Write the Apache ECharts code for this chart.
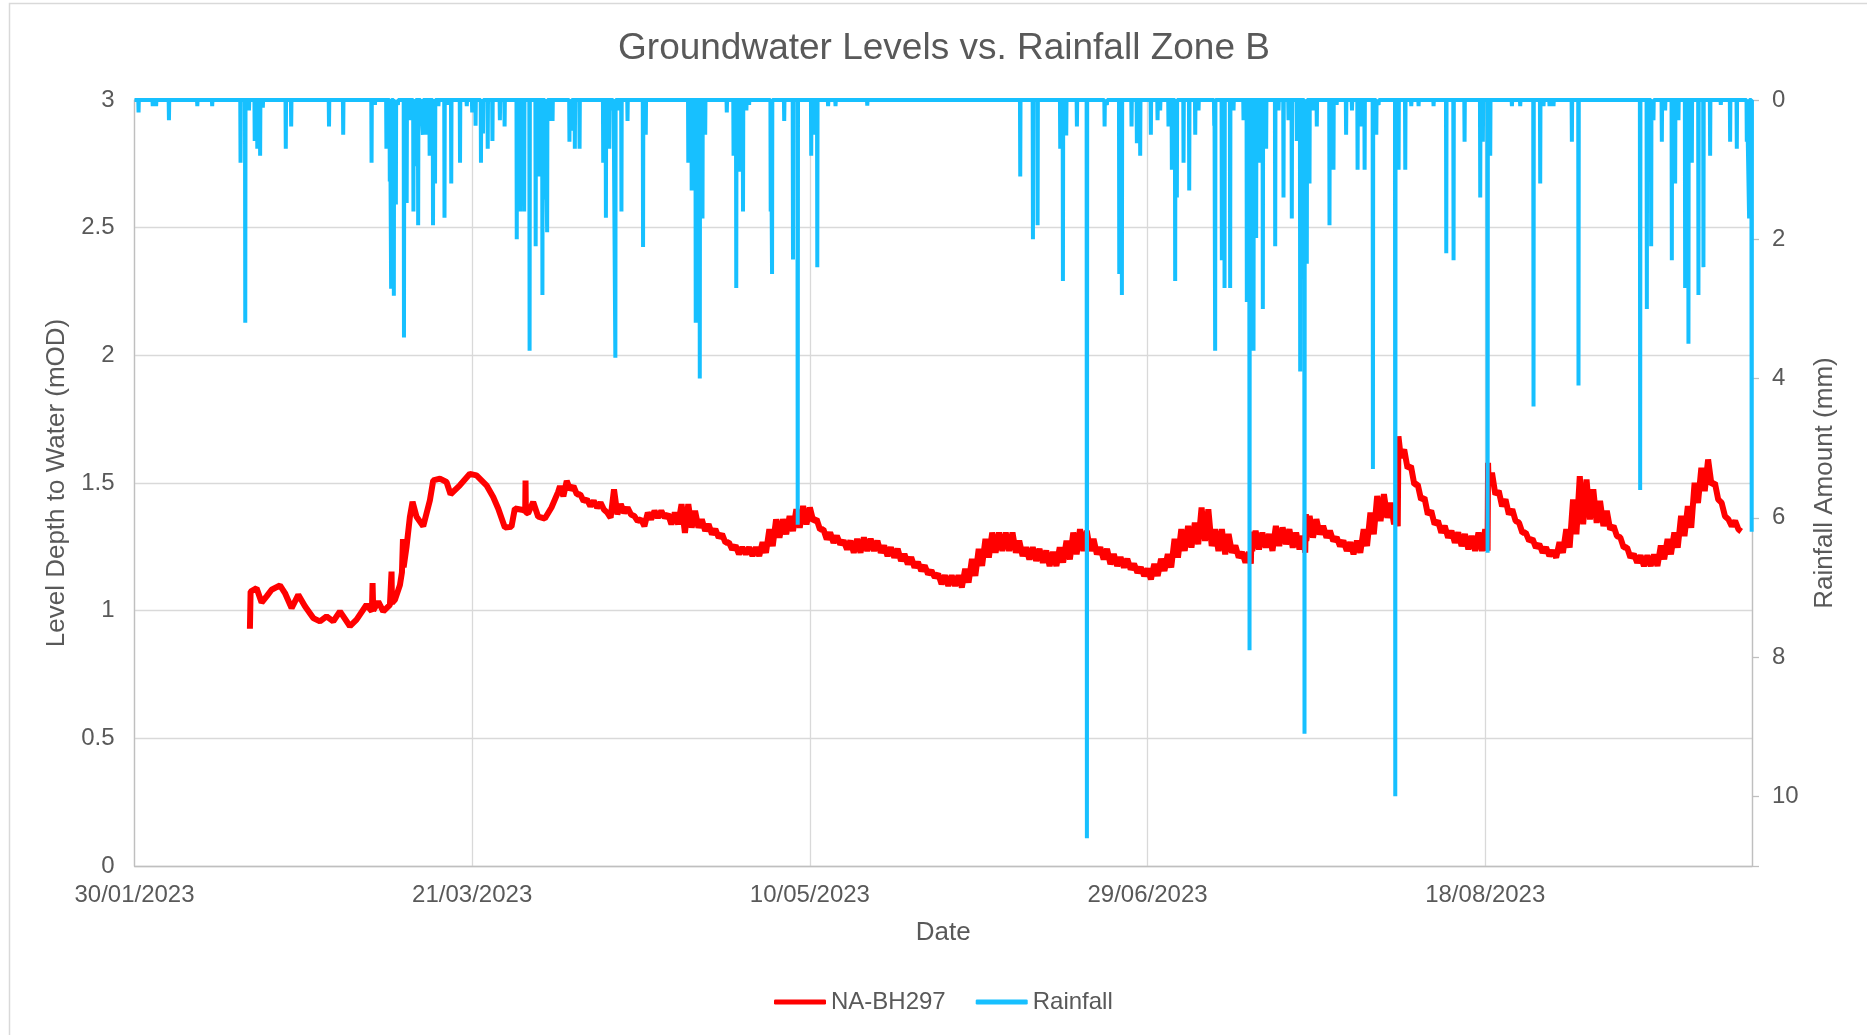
<!DOCTYPE html>
<html>
<head>
<meta charset="utf-8">
<script src="https://cdn.jsdelivr.net/npm/echarts@6/dist/echarts.min.js"></script>
<style>
html,body{margin:0;padding:0;background:#fff;}
#chart{width:1867px;height:1035px;}
</style>
</head>
<body>
<div id="chart"></div>
<script>
// ---------- DATA (day offsets from 30/01/2023) ----------
const chartTitle = 'Groundwater Levels vs. Rainfall Zone B';
const seriesNames = ['NA-BH297', 'Rainfall'];
const xAxisTitle = 'Date';
const leftAxisTitle = 'Level Depth to Water (mOD)';
const rightAxisTitle = 'Rainfall Amount (mm)';
const startDate = [2023, 0, 30];
const xTickIntervalDays = 50;
const xMaxDay = 239.5;
const levelTicks = [0, 3, 0.5];      // min, max, step
const rainTicks = [0, 11, 2];        // min, max, step

// Groundwater level, early record (single trace)
const levelEarlyDays = [17.09,17.19,18.08,18.82,19.56,20.3,21.54,22.28,23.26,24.25,25.24,26.47,27.455,28.44,29.43,30.42,31.9,32.88,34.36,35.15,35.25,35.35,36.09,36.83,37.82,38.0,38.06,38.12,38.56,39.3,39.6,39.75,39.85,40.28,40.78,41.17,41.76,42.75,43.74,44.23,45.22,46.2,46.8,48.17,49.66,50.64,52.12,53.11,53.85,54.84,55.82,56.32,57.55,57.85,57.9,57.95,58.29,59.03,59.77,60.76,61.74,62.73];
const levelEarly = [0.929,1.075,1.088,1.032,1.056,1.082,1.099,1.069,1.010,1.062,1.017,0.971,0.958,0.978,0.958,0.997,0.939,0.965,1.023,0.997,1.108,1.0,1.036,0.997,1.023,1.03,1.153,1.03,1.043,1.10,1.15,1.28,1.17,1.25,1.368,1.426,1.368,1.331,1.432,1.510,1.517,1.504,1.456,1.491,1.536,1.530,1.491,1.445,1.400,1.326,1.329,1.400,1.394,1.39,1.510,1.385,1.381,1.426,1.368,1.361,1.404,1.465];

// From day 63: daily upper / lower edge of the diurnal band
const levelBandStartDay = 63;
const levelBandHigh = [
1.488,1.508,1.488,1.456,1.436,1.430,1.423,1.384,1.475,1.417,
1.404,1.371,1.358,1.384,1.391,1.391,1.378,1.384,1.417,1.417,
1.391,1.358,1.339,1.319,1.300,1.268,1.255,1.248,1.248,1.248,
1.268,1.319,1.358,1.358,1.371,1.397,1.410,1.404,1.358,1.319,
1.306,1.293,1.274,1.274,1.281,1.287,1.281,1.274,1.255,1.248,
1.242,1.222,1.209,1.190,1.177,1.157,1.144,1.138,1.138,1.138,
1.164,1.203,1.242,1.281,1.306,1.306,1.306,1.306,1.274,1.248,
1.248,1.242,1.235,1.230,1.248,1.274,1.306,1.319,1.313,1.281,
1.248,1.242,1.222,1.209,1.203,1.183,1.170,1.164,1.183,1.203,
1.222,1.281,1.319,1.332,1.345,1.404,1.397,1.319,1.319,1.300,
1.255,1.229,1.229,1.313,1.306,1.300,1.332,1.326,1.319,1.306,
1.293,1.371,1.358,1.332,1.313,1.287,1.274,1.268,1.274,1.319,
1.384,1.449,1.456,1.423,1.400,1.631,1.566,1.495,1.443,1.391,
1.352,1.332,1.313,1.306,1.300,1.293,1.306,1.319,1.540,1.469,
1.436,1.397,1.345,1.306,1.281,1.261,1.248,1.235,1.268,1.319,
1.436,1.527,1.514,1.475,1.430,1.391,1.332,1.287,1.248,1.222,
1.216,1.216,1.220,1.255,1.281,1.306,1.371,1.410,1.501,1.560,
1.592,1.501,1.423,1.358,1.352];
const levelBandLow = [
1.448,1.474,1.455,1.429,1.409,1.403,1.396,1.364,1.377,1.383,
1.377,1.351,1.331,1.357,1.364,1.364,1.338,1.338,1.305,1.325,
1.325,1.312,1.299,1.286,1.266,1.240,1.221,1.221,1.214,1.214,
1.227,1.253,1.286,1.299,1.312,1.325,1.338,1.351,1.318,1.279,
1.266,1.260,1.240,1.227,1.227,1.234,1.234,1.227,1.214,1.208,
1.195,1.182,1.169,1.156,1.143,1.130,1.104,1.097,1.097,1.091,
1.110,1.136,1.175,1.208,1.227,1.234,1.234,1.227,1.214,1.201,
1.195,1.188,1.175,1.175,1.188,1.201,1.221,1.234,1.234,1.221,
1.201,1.182,1.175,1.169,1.162,1.149,1.136,1.123,1.136,1.156,
1.169,1.208,1.234,1.247,1.260,1.273,1.253,1.234,1.221,1.227,
1.208,1.188,1.234,1.240,1.247,1.234,1.253,1.260,1.247,1.240,
1.273,1.286,1.299,1.286,1.273,1.253,1.234,1.221,1.227,1.253,
1.299,1.351,1.364,1.338,1.600,1.558,1.494,1.435,1.377,1.338,
1.305,1.286,1.266,1.253,1.240,1.234,1.234,1.497,1.455,1.409,
1.377,1.351,1.305,1.273,1.247,1.227,1.214,1.208,1.227,1.247,
1.299,1.338,1.357,1.344,1.331,1.318,1.292,1.247,1.208,1.188,
1.175,1.175,1.175,1.201,1.221,1.247,1.292,1.325,1.422,1.468,
1.494,1.435,1.370,1.331,1.318];
// Step changes after heavy rain, and last reading
const levelStepDays = [165.3,165.4,173.35,173.45,187.05,187.15,200.35,200.42,237.9];
const levelStepValues = [1.184,1.31,1.227,1.378,1.33,1.683,1.235,1.579,1.31];

// Rainfall events (day offset, mm)
const rainDays = [0.6,2.7,3.2,5.1,9.3,11.5,15.7,16.4,16.95,17.8,18.18,18.6,19.0,22.4,23.2,28.8,30.9,35.1,35.6,37.3,37.8,38.0,38.4,38.7,39.0,39.9,40.3,40.86,41.3,41.6,42.0,42.4,42.7,43.1,43.7,44.2,44.5,45.0,45.9,46.4,46.9,48.2,49.2,50.0,50.5,51.3,51.6,52.3,53.0,54.1,54.8,56.6,57.1,57.7,58.5,59.4,59.8,60.4,60.8,61.1,61.5,61.9,64.4,64.7,65.2,65.9,69.4,69.8,70.3,70.9,71.2,71.6,72.1,73.0,75.3,75.7,82.0,82.5,83.1,83.7,84.1,84.5,87.7,88.7,89.1,89.6,90.1,90.6,91.0,94.2,94.4,96.2,97.5,98.2,100.2,100.6,101.1,102.7,103.8,108.5,131.15,133.03,133.72,137.07,137.47,137.96,139.54,141.02,143.64,143.98,145.81,146.2,147.63,148.42,148.91,150.49,151.48,151.87,153.1,153.6,154.09,154.34,155.33,156.17,157.06,157.55,159.87,160.01,161.0,161.4,162.23,162.73,164.21,164.7,165.1,165.69,166.08,166.58,167.07,167.56,168.9,169.39,170.13,170.87,171.36,172.1,172.6,173.24,173.58,173.98,174.47,175.06,176.94,177.53,178.0,179.4,180.27,181.1,181.65,182.14,183.37,183.87,184.21,186.68,187.17,188.16,189.05,190.13,192.35,194.23,195.31,196.94,199.26,199.65,200.35,200.74,203.95,205.18,207.15,208.14,208.63,209.52,210.11,212.83,213.81,222.94,223.93,224.57,224.91,226.15,226.64,227.63,228.12,228.61,229.6,230.09,230.59,231.57,232.31,233.3,234.88,236.26,237.25,238.73,239.07,239.45];
const rainMm = [0.18,0.09,0.09,0.29,0.09,0.09,0.9,3.2,0.15,0.59,0.7,0.8,0.11,0.7,0.38,0.38,0.5,0.9,0.07,0.7,1.17,2.71,2.81,1.5,0.07,3.41,1.48,0.29,1.6,0.95,1.8,0.33,0.5,0.5,0.8,1.8,1.2,0.09,1.69,0.07,1.2,0.9,0.09,0.18,0.37,0.9,0.48,0.7,0.59,0.29,0.38,2.0,1.6,1.6,3.6,2.1,1.1,2.8,1.43,1.9,0.3,0.3,0.6,0.44,0.7,0.7,0.9,1.69,0.7,0.15,3.7,0.15,1.6,0.3,2.11,0.5,0.9,1.3,3.2,4.0,1.7,0.5,0.18,0.8,2.7,1.03,1.6,0.15,0.07,1.6,2.5,0.3,2.29,6.1,0.8,0.5,2.4,0.09,0.09,0.08,1.1,2.0,1.8,0.7,2.6,0.51,0.38,10.6,0.38,0.07,2.5,2.8,0.38,0.62,0.8,0.5,0.29,0.15,0.38,1.0,2.6,1.4,0.9,1.3,0.5,0.15,0.37,3.6,2.3,2.7,2.7,0.15,0.29,2.9,7.9,3.6,1.98,0.9,3.0,0.7,2.1,0.15,1.4,0.29,1.7,0.59,3.9,9.1,2.35,1.2,0.15,0.38,1.8,1.0,0.07,0.5,0.15,1.0,0.38,1.0,5.3,0.5,0.07,10.0,1.0,1.0,0.09,0.09,0.09,2.2,2.3,0.6,1.4,0.6,6.5,0.8,0.09,0.09,4.4,1.2,0.09,0.09,0.09,0.6,4.1,5.6,3.0,2.1,0.29,0.6,0.15,2.3,1.2,0.29,2.7,3.5,0.9,2.8,2.4,0.8,0.07,0.6,0.7,0.6,1.7,6.2];

// ---------- BUILD ----------
const DAY = 86400000, HOUR = 3600000;
const T0 = Date.UTC(startDate[0], startDate[1], startDate[2]);
const levelData = [];
levelEarlyDays.forEach((d, i) => levelData.push([T0 + d * DAY, levelEarly[i]]));
levelBandHigh.forEach((v, i) => {
  const d = levelBandStartDay + i;
  levelData.push([T0 + d * DAY, v]);
  levelData.push([T0 + (d + 0.5) * DAY, levelBandLow[i]]);
});
levelStepDays.forEach((d, i) => levelData.push([T0 + d * DAY, levelStepValues[i]]));
levelData.sort((a, b) => a[0] - b[0]);

const rainData = [[T0, 0]];
rainDays.forEach((d, i) => {
  const t = T0 + d * DAY;
  rainData.push([t - HOUR, 0], [t, rainMm[i]], [t + HOUR, 0]);
});

const FONT = "'Liberation Sans', Arial, sans-serif";
const TXT = '#595959';
const AXIS = '#bfbfbf';
const GRID = '#d9d9d9';
const pad = n => (n < 10 ? '0' : '') + n;

const chart = echarts.init(document.getElementById('chart'), null, {renderer: 'canvas'});
chart.setOption({
  animation: false,
  backgroundColor: '#ffffff',
  graphic: [{
    type: 'rect', silent: true, z: -10,
    shape: {x: 9.5, y: 3.5, width: 1900, height: 1100},
    style: {fill: 'none', stroke: '#d9d9d9', lineWidth: 1.5}
  }],
  title: {
    text: chartTitle, left: 939, top: 25, textAlign: 'center',
    textStyle: {fontFamily: FONT, fontSize: 37, fontWeight: 'normal', color: TXT}
  },
  legend: {
    data: seriesNames, left: 769, top: 985,
    itemWidth: 52, itemHeight: 5, itemGap: 30, icon: 'roundRect',
    textStyle: {fontFamily: FONT, fontSize: 24, color: TXT}
  },
  grid: {left: 134.5, right: 115, top: 100, bottom: 169},
  xAxis: {
    type: 'value', min: T0, max: T0 + xMaxDay * DAY, interval: xTickIntervalDays * DAY,
    name: xAxisTitle, nameLocation: 'middle', nameGap: 54,
    nameTextStyle: {fontFamily: FONT, fontSize: 26, color: TXT},
    axisLine: {onZero: false, lineStyle: {color: AXIS, width: 1.3}},
    axisTick: {show: false},
    axisLabel: {
      margin: 17, fontFamily: FONT, fontSize: 24, color: TXT, showMaxLabel: false,
      formatter: v => {
        const k = (v - T0) / DAY;
        if (Math.abs(k / xTickIntervalDays - Math.round(k / xTickIntervalDays)) > 1e-6) return '';
        const dt = new Date(v);
        return pad(dt.getUTCDate()) + '/' + pad(dt.getUTCMonth() + 1) + '/' + dt.getUTCFullYear();
      }
    },
    splitLine: {show: true, lineStyle: {color: GRID, width: 1.3}}
  },
  yAxis: [{
    type: 'value', min: levelTicks[0], max: levelTicks[1], interval: levelTicks[2],
    name: leftAxisTitle, nameLocation: 'middle', nameGap: 64, nameRotate: 90,
    nameTextStyle: {fontFamily: FONT, fontSize: 26, color: TXT},
    axisLine: {show: true, lineStyle: {color: AXIS, width: 1.3}},
    axisTick: {show: false},
    axisLabel: {margin: 20, fontFamily: FONT, fontSize: 24, color: TXT},
    splitLine: {show: true, lineStyle: {color: GRID, width: 1.3}}
  }, {
    type: 'value', position: 'right', inverse: true,
    min: rainTicks[0], max: rainTicks[1], interval: rainTicks[2],
    name: rightAxisTitle, nameLocation: 'middle', nameGap: 60, nameRotate: 90,
    nameTextStyle: {fontFamily: FONT, fontSize: 26, color: TXT},
    axisLine: {show: true, lineStyle: {color: AXIS, width: 1.3}},
    axisTick: {show: true, length: 7, lineStyle: {color: AXIS, width: 1.3}},
    axisLabel: {margin: 20, fontFamily: FONT, fontSize: 24, color: TXT,
      formatter: v => (v % rainTicks[2] === 0 ? String(v) : '')},
    splitLine: {show: false}
  }],
  series: [{
    name: seriesNames[0], type: 'line', yAxisIndex: 0, data: levelData,
    symbol: 'none', showSymbol: false,
    lineStyle: {color: '#ff0000', width: 6}, itemStyle: {color: '#ff0000'}
  }, {
    name: seriesNames[1], type: 'line', yAxisIndex: 1, data: rainData,
    symbol: 'none', showSymbol: false,
    lineStyle: {color: '#17c0ff', width: 4}, itemStyle: {color: '#17c0ff'}
  }]
});
</script>
</body>
</html>
